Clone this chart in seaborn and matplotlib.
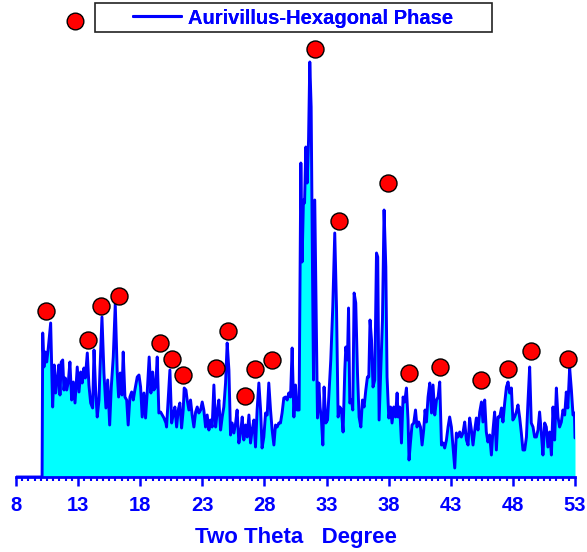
import numpy as np
import pandas as pd
import matplotlib
matplotlib.use("Agg")
import matplotlib.pyplot as plt
from matplotlib.lines import Line2D
from matplotlib.patches import Rectangle
import seaborn as sns

# ---------------- data ----------------
two_theta = [
    8.00, 10.10, 10.15, 10.25, 10.36, 10.47, 10.60, 10.79, 10.95, 11.08, 11.19, 11.32,
    11.44, 11.54, 11.64, 11.76, 11.86, 11.97, 12.08, 12.21, 12.34, 12.48, 12.61, 12.75,
    12.93, 13.07, 13.21, 13.33, 13.47, 13.58, 13.74, 13.87, 14.01, 14.17, 14.28, 14.41,
    14.54, 14.68, 14.76, 14.92, 15.08, 15.24, 15.38, 15.54, 15.67, 15.83, 15.99, 16.15,
    16.26, 16.39, 16.53, 16.63, 16.77, 16.91, 17.03, 17.17, 17.31, 17.44, 17.57, 17.76,
    17.90, 18.03, 18.16, 18.30, 18.43, 18.56, 18.72, 18.86, 19.00, 19.10, 19.24, 19.37,
    19.50, 19.64, 19.77, 19.91, 20.07, 20.12, 20.25, 20.39, 20.53, 20.65, 20.79, 20.93,
    21.06, 21.19, 21.33, 21.46, 21.54, 21.68, 21.78, 21.92, 22.05, 22.18, 22.32, 22.46,
    22.59, 22.72, 22.86, 22.99, 23.12, 23.26, 23.39, 23.53, 23.66, 23.79, 23.93, 24.07,
    24.19, 24.33, 24.47, 24.60, 24.73, 24.87, 25.00, 25.14, 25.27, 25.40, 25.54, 25.68,
    25.80, 25.94, 26.08, 26.21, 26.34, 26.48, 26.61, 26.75, 26.88, 27.01, 27.15, 27.28,
    27.41, 27.55, 27.69, 27.81, 27.95, 28.09, 28.22, 28.35, 28.49, 28.62, 28.76, 28.89,
    29.02, 29.16, 29.29, 29.42, 29.56, 29.70, 29.83, 29.96, 30.10, 30.23, 30.37, 30.50,
    30.63, 30.79, 30.93, 31.03, 31.14, 31.23, 31.33, 31.44, 31.55, 31.65, 31.76, 31.87,
    31.95, 32.05, 32.16, 32.27, 32.38, 32.48, 32.59, 32.70, 32.80, 32.94, 33.08, 33.20,
    33.34, 33.50, 33.66, 33.80, 33.93, 34.07, 34.20, 34.33, 34.47, 34.55, 34.68, 34.77,
    34.87, 35.01, 35.11, 35.22, 35.35, 35.49, 35.62, 35.76, 35.89, 36.02, 36.16, 36.29,
    36.40, 36.50, 36.62, 36.74, 36.88, 37.02, 37.12, 37.23, 37.36, 37.50, 37.63, 37.77,
    37.87, 38.01, 38.15, 38.27, 38.41, 38.55, 38.68, 38.76, 38.89, 39.03, 39.16, 39.29,
    39.43, 39.56, 39.64, 39.75, 39.88, 40.02, 40.16, 40.28, 40.42, 40.56, 40.69, 40.82,
    40.93, 41.04, 41.17, 41.31, 41.45, 41.57, 41.71, 41.85, 41.98, 42.11, 42.25, 42.38,
    42.51, 42.65, 42.78, 42.91, 43.05, 43.18, 43.32, 43.45, 43.58, 43.72, 43.85, 43.98,
    44.12, 44.26, 44.39, 44.52, 44.66, 44.79, 44.93, 45.06, 45.19, 45.33, 45.47, 45.59,
    45.73, 45.86, 45.99, 46.13, 46.27, 46.40, 46.53, 46.67, 46.80, 46.94, 47.08, 47.20,
    47.34, 47.48, 47.61, 47.74, 47.88, 48.00, 48.14, 48.28, 48.41, 48.55, 48.68, 48.81,
    48.95, 49.09, 49.21, 49.35, 49.48, 49.62, 49.75, 49.89, 50.02, 50.15, 50.29, 50.42,
    50.56, 50.69, 50.82, 50.96, 51.10, 51.23, 51.36, 51.50, 51.63, 51.76, 51.90, 52.03,
    52.17, 52.30, 52.42, 52.57, 52.71, 52.84, 52.95, 53.00,
]
intensity = [
    0, 0, 144, 110, 125, 115, 129, 154, 70, 112, 84, 97,
    112, 82, 115, 117, 87, 99, 87, 95, 115, 77, 95, 74,
    110, 85, 105, 94, 109, 99, 124, 92, 74, 69, 127, 87,
    60, 77, 107, 160, 104, 69, 97, 52, 90, 120, 173, 104,
    80, 104, 82, 125, 80, 77, 52, 80, 85, 77, 87, 100,
    102, 90, 60, 84, 59, 84, 120, 84, 105, 87, 90, 120,
    64, 65, 62, 59, 54, 50, 77, 107, 54, 62, 70, 50,
    67, 74, 49, 67, 89, 87, 77, 67, 77, 62, 50, 65,
    70, 64, 67, 75, 67, 50, 62, 47, 57, 50, 92, 50,
    64, 77, 47, 60, 70, 94, 134, 107, 42, 54, 44, 54,
    67, 34, 44, 60, 37, 52, 40, 62, 34, 47, 57, 30,
    67, 94, 67, 29, 40, 64, 62, 94, 67, 47, 32, 52,
    50, 54, 54, 64, 79, 80, 77, 84, 80, 129, 60, 92,
    67, 67, 314, 215, 277, 274, 330, 294, 337, 415, 370, 204,
    97, 277, 170, 59, 94, 70, 57, 32, 90, 54, 57, 84,
    117, 170, 244, 170, 60, 70, 67, 45, 107, 130, 117, 169,
    74, 77, 67, 184, 174, 104, 60, 50, 77, 70, 87, 100,
    100, 157, 137, 90, 97, 224, 220, 57, 104, 157, 267, 210,
    100, 59, 70, 54, 70, 60, 84, 60, 70, 34, 80, 75,
    89, 57, 17, 34, 52, 54, 67, 50, 55, 50, 32, 47,
    67, 55, 80, 94, 64, 92, 62, 77, 80, 95, 32, 34,
    29, 37, 50, 60, 50, 30, 9, 44, 40, 45, 40, 44,
    55, 37, 32, 59, 47, 32, 47, 59, 47, 65, 75, 55,
    77, 45, 35, 42, 22, 47, 65, 27, 60, 60, 69, 55,
    74, 90, 95, 84, 89, 57, 60, 65, 72, 59, 44, 27,
    27, 40, 74, 110, 54, 50, 40, 40, 47, 65, 44, 22,
    54, 50, 30, 45, 22, 70, 37, 89, 60, 50, 55, 67,
    62, 85, 69, 109, 87, 62, 64, 39,
]
peak_theta = [10.41, 13.82, 14.86, 16.26, 19.58, 20.58, 21.41, 24.07, 25.03, 26.42, 27.26,
              28.62, 32.03, 34.01, 37.96, 39.64, 42.17, 45.46, 47.58, 49.49, 52.43]
peak_intensity = [166, 137, 171, 181, 134, 118, 102, 109, 146, 81, 108,
                  117, 428, 256, 294, 104, 110, 97, 108, 126, 118]
x_ticks = [8, 13, 18, 23, 28, 33, 38, 43, 48, 53]
legend_label = "Aurivillus-Hexagonal Phase"
x_label = "Two Theta   Degree"

df = pd.DataFrame({"two_theta": two_theta, "intensity": intensity})
peaks = pd.DataFrame({"two_theta": peak_theta, "intensity": peak_intensity})

# ---------------- style ----------------
sns.set_style("white")
plt.rcParams["font.family"] = ["Liberation Sans", "DejaVu Sans"]
BLUE = "#0000FF"
CYAN = "#00FFFF"

W, H = 587, 552
fig = plt.figure(figsize=(W / 100, H / 100), dpi=100)
ax = fig.add_axes([16 / W, (H - 477) / H, (575 - 16) / W, 477 / H])

ax.fill_between(df["two_theta"], 0, df["intensity"], color=CYAN, linewidth=0, zorder=1)
sns.lineplot(data=df, x="two_theta", y="intensity", color=BLUE, linewidth=2.1,
             ax=ax, zorder=2, sort=False, estimator=None)
sns.scatterplot(data=peaks, x="two_theta", y="intensity", color="red", edgecolor="black",
                linewidth=1.0, s=150, ax=ax, zorder=3, clip_on=False)

ax.set_xlim(8, 53)
ax.set_ylim(0, 477)
ax.set_xticks(x_ticks)
ax.set_xticks(np.arange(8, 53.01, 0.5), minor=True)
ax.set_yticks([])
for side in ["top", "right", "left"]:
    ax.spines[side].set_visible(False)
ax.spines["bottom"].set_color(BLUE)
ax.spines["bottom"].set_linewidth(2.0)
ax.tick_params(axis="x", which="major", direction="out", length=6.5, width=1.8,
               color=BLUE, labelcolor=BLUE, labelsize=14.5, pad=7, bottom=True)
ax.tick_params(axis="x", which="minor", direction="out", length=3, width=1.5,
               color=BLUE, bottom=True)
for lab in ax.get_xticklabels():
    lab.set_fontweight("bold")
ax.set_xlabel(x_label, color=BLUE, fontsize=16, fontweight="bold", labelpad=9)
ax.set_ylabel("")

# ---------------- legends ----------------
ax.legend_ = None
line_handle = Line2D([], [], color=BLUE, linewidth=2.2)
leg2 = fig.legend([line_handle], [legend_label], loc="center left",
                  bbox_to_anchor=(133 / W, 1 - 18 / H), frameon=False,
                  borderpad=0, borderaxespad=0, handlelength=2.4, handletextpad=0.35,
                  prop={"weight": "bold", "size": 14.5})
for t in leg2.get_texts():
    t.set_color(BLUE)
fig.add_artist(Rectangle((95 / W, 1 - 32 / H), 397 / W, 29 / H, transform=fig.transFigure,
                         fill=False, edgecolor="#222222", linewidth=1.2))
dot_handle = Line2D([], [], linestyle="none", marker="o", markersize=12,
                    markerfacecolor="red", markeredgecolor="black", markeredgewidth=1.0)
leg1 = fig.legend([dot_handle], [""], loc="center", bbox_to_anchor=(75 / W, 1 - 22 / H),
                  frameon=False, borderpad=0, borderaxespad=0, handlelength=1.0,
                  handletextpad=0)
fig.add_artist(leg2)

fig.savefig("out.png", dpi=100)
